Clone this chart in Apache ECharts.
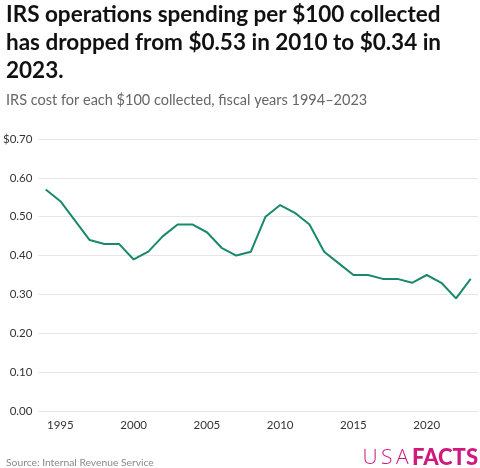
<!DOCTYPE html>
<html>
<head>
<meta charset="utf-8">
<script src="https://cdn.jsdelivr.net/npm/echarts@6/dist/echarts.min.js"></script>
<style>
  html, body { margin: 0; padding: 0; background: #fff; }
  #chart { width: 480px; height: 468px; }
</style>
</head>
<body>
<div id="chart"></div>
<script>
(function () {
  var years = ['1994', '1995', '1996', '1997', '1998', '1999', '2000', '2001', '2002', '2003',
               '2004', '2005', '2006', '2007', '2008', '2009', '2010', '2011', '2012', '2013',
               '2014', '2015', '2016', '2017', '2018', '2019', '2020', '2021', '2022', '2023'];
  var costPer100 = [0.57, 0.54, 0.49, 0.44, 0.43, 0.43, 0.39, 0.41, 0.45, 0.48,
                    0.48, 0.46, 0.42, 0.40, 0.41, 0.50, 0.53, 0.51, 0.48, 0.41,
                    0.38, 0.35, 0.35, 0.34, 0.34, 0.33, 0.35, 0.33, 0.29, 0.34];

  var font = 'Lato, "Noto Sans", sans-serif';
  var myChart = echarts.init(document.getElementById('chart'));

  myChart.setOption({
    animation: false,
    title: [
      {
        text: 'IRS operations spending per $100 collected\nhas dropped from $0.53 in 2010 to $0.34 in\n2023.',
        left: 1,
        top: -4,
        textStyle: { fontFamily: font, fontSize: 22.5, fontWeight: 'bold', color: '#111', lineHeight: 28 }
      },
      {
        text: 'IRS cost for each $100 collected, fiscal years 1994\u20132023',
        left: 1,
        top: 88,
        textStyle: { fontFamily: font, fontSize: 14.5, fontWeight: 'normal', color: '#666' }
      },
      {
        text: 'Source: Internal Revenue Service',
        left: 1,
        top: 453,
        textStyle: { fontFamily: font, fontSize: 10.3, fontWeight: 'normal', color: '#888' }
      }
    ],
    graphic: [
      {
        type: 'text',
        right: 2,
        top: 447,
        style: {
          rich: {
            a: { fontFamily: '"Open Sans", Lato, sans-serif', fontSize: 21, fontWeight: 300, fill: '#d0197f' },
            b: { fontFamily: font, fontSize: 22, fontWeight: 900, fill: '#d0197f' }
          },
          text: '{a|U\u2009S\u2009A\u2009}{b|FACTS}'
        }
      }
    ],
    grid: { left: 34, right: 2, top: 139, bottom: 57 },
    xAxis: {
      type: 'category',
      data: years,
      boundaryGap: true,
      axisLine: { show: false },
      axisTick: { show: false },
      axisLabel: {
        interval: function (i, v) { return Number(v) % 5 === 0; },
        fontFamily: font, fontSize: 11.5, color: '#333', margin: 8
      }
    },
    yAxis: {
      type: 'value',
      min: 0,
      max: 0.7,
      interval: 0.1,
      axisLine: { show: false },
      axisTick: { show: false },
      splitLine: { lineStyle: { color: '#e6e6e6', width: 1 } },
      axisLabel: {
        fontFamily: font, fontSize: 11.5, color: '#333', margin: 6,
        formatter: function (v) {
          var s = v.toFixed(2);
          return Math.abs(v - 0.7) < 1e-9 ? '$' + s : s;
        }
      }
    },
    series: [
      {
        type: 'line',
        data: costPer100,
        symbol: 'none',
        lineStyle: { color: '#18896a', width: 2 }
      }
    ]
  });
})();
</script>
</body>
</html>
